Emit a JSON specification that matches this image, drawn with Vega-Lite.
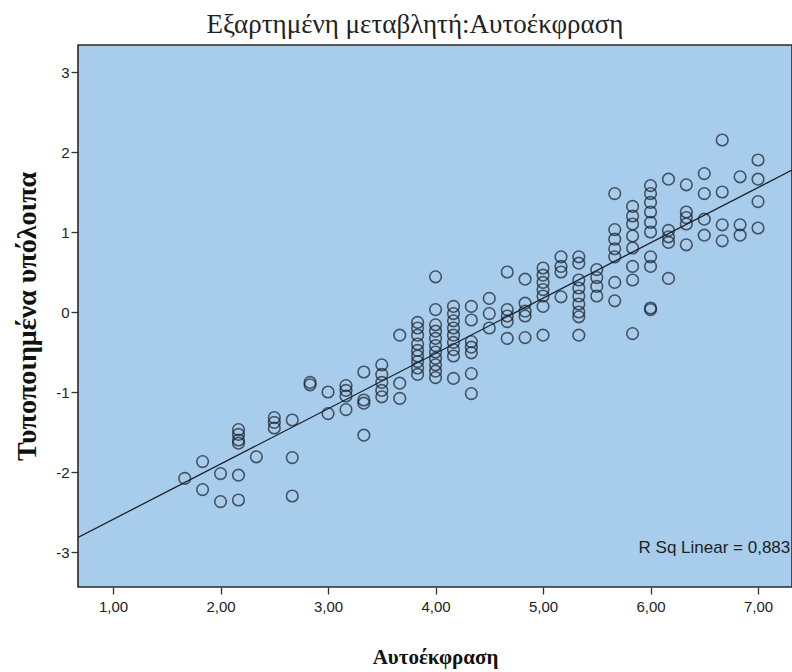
{
  "$schema": "https://vega.github.io/schema/vega-lite/v6.json",
  "width": 714,
  "height": 542,
  "autosize": "none",
  "padding": {"left": 78, "top": 45, "right": 0, "bottom": 85},
  "background": "white",
  "config": {
    "view": {"fill": "#a8ccec", "stroke": "#2b2b2b", "strokeWidth": 1.6},
    "axis": {
      "domain": false,
      "grid": false,
      "tickColor": "#333333",
      "tickWidth": 1.3,
      "tickSize": 7,
      "labelFont": "Liberation Sans",
      "labelFontSize": 15,
      "labelColor": "#222222",
      "titleFont": "Liberation Serif",
      "titleFontWeight": "bold",
      "titleColor": "#111111"
    }
  },
  "title": {
    "text": "Εξαρτημένη μεταβλητή:Αυτοέκφραση",
    "font": "Liberation Serif",
    "fontWeight": "normal",
    "fontSize": 27,
    "color": "#222222",
    "anchor": "middle",
    "dx": -20,
    "offset": 6
  },
  "datasets": {
    "points": [
      {"x": 1.667, "y": -2.08},
      {"x": 1.833, "y": -1.87}, {"x": 1.833, "y": -2.22},
      {"x": 2.0, "y": -2.02}, {"x": 2.0, "y": -2.37},
      {"x": 2.167, "y": -1.47}, {"x": 2.167, "y": -1.53}, {"x": 2.167, "y": -1.6}, {"x": 2.167, "y": -1.64}, {"x": 2.167, "y": -2.04}, {"x": 2.167, "y": -2.35},
      {"x": 2.333, "y": -1.81},
      {"x": 2.5, "y": -1.32}, {"x": 2.5, "y": -1.38}, {"x": 2.5, "y": -1.45},
      {"x": 2.667, "y": -1.35}, {"x": 2.667, "y": -1.82}, {"x": 2.667, "y": -2.3},
      {"x": 2.833, "y": -0.88}, {"x": 2.833, "y": -0.91},
      {"x": 3.0, "y": -1.0}, {"x": 3.0, "y": -1.27},
      {"x": 3.167, "y": -0.92}, {"x": 3.167, "y": -0.98}, {"x": 3.167, "y": -1.05}, {"x": 3.167, "y": -1.22},
      {"x": 3.333, "y": -0.75}, {"x": 3.333, "y": -1.1}, {"x": 3.333, "y": -1.14}, {"x": 3.333, "y": -1.54},
      {"x": 3.5, "y": -0.66}, {"x": 3.5, "y": -0.78}, {"x": 3.5, "y": -0.88}, {"x": 3.5, "y": -0.98}, {"x": 3.5, "y": -1.06},
      {"x": 3.667, "y": -0.29}, {"x": 3.667, "y": -0.89}, {"x": 3.667, "y": -1.08},
      {"x": 3.833, "y": -0.13}, {"x": 3.833, "y": -0.2}, {"x": 3.833, "y": -0.29}, {"x": 3.833, "y": -0.4}, {"x": 3.833, "y": -0.48}, {"x": 3.833, "y": -0.55}, {"x": 3.833, "y": -0.62}, {"x": 3.833, "y": -0.7}, {"x": 3.833, "y": -0.78},
      {"x": 4.0, "y": 0.44}, {"x": 4.0, "y": 0.03}, {"x": 4.0, "y": -0.16}, {"x": 4.0, "y": -0.24}, {"x": 4.0, "y": -0.33}, {"x": 4.0, "y": -0.42}, {"x": 4.0, "y": -0.5}, {"x": 4.0, "y": -0.58}, {"x": 4.0, "y": -0.66}, {"x": 4.0, "y": -0.74}, {"x": 4.0, "y": -0.82},
      {"x": 4.167, "y": 0.07}, {"x": 4.167, "y": -0.02}, {"x": 4.167, "y": -0.11}, {"x": 4.167, "y": -0.2}, {"x": 4.167, "y": -0.29}, {"x": 4.167, "y": -0.38}, {"x": 4.167, "y": -0.47}, {"x": 4.167, "y": -0.55}, {"x": 4.167, "y": -0.83},
      {"x": 4.333, "y": 0.07}, {"x": 4.333, "y": -0.1}, {"x": 4.333, "y": -0.37}, {"x": 4.333, "y": -0.44}, {"x": 4.333, "y": -0.51}, {"x": 4.333, "y": -0.77}, {"x": 4.333, "y": -1.02},
      {"x": 4.5, "y": 0.17}, {"x": 4.5, "y": -0.02}, {"x": 4.5, "y": -0.2},
      {"x": 4.667, "y": 0.5}, {"x": 4.667, "y": 0.03}, {"x": 4.667, "y": -0.05}, {"x": 4.667, "y": -0.12}, {"x": 4.667, "y": -0.33},
      {"x": 4.833, "y": 0.41}, {"x": 4.833, "y": 0.11}, {"x": 4.833, "y": 0.01}, {"x": 4.833, "y": -0.05}, {"x": 4.833, "y": -0.32},
      {"x": 5.0, "y": 0.55}, {"x": 5.0, "y": 0.46}, {"x": 5.0, "y": 0.37}, {"x": 5.0, "y": 0.28}, {"x": 5.0, "y": 0.2}, {"x": 5.0, "y": 0.07}, {"x": 5.0, "y": -0.29},
      {"x": 5.167, "y": 0.69}, {"x": 5.167, "y": 0.57}, {"x": 5.167, "y": 0.5}, {"x": 5.167, "y": 0.19},
      {"x": 5.333, "y": 0.69}, {"x": 5.333, "y": 0.61}, {"x": 5.333, "y": 0.4}, {"x": 5.333, "y": 0.3}, {"x": 5.333, "y": 0.2}, {"x": 5.333, "y": 0.1}, {"x": 5.333, "y": 0.0}, {"x": 5.333, "y": -0.06}, {"x": 5.333, "y": -0.29},
      {"x": 5.5, "y": 0.53}, {"x": 5.5, "y": 0.43}, {"x": 5.5, "y": 0.32}, {"x": 5.5, "y": 0.2},
      {"x": 5.667, "y": 1.48}, {"x": 5.667, "y": 1.03}, {"x": 5.667, "y": 0.91}, {"x": 5.667, "y": 0.79}, {"x": 5.667, "y": 0.69}, {"x": 5.667, "y": 0.37}, {"x": 5.667, "y": 0.14},
      {"x": 5.833, "y": 1.32}, {"x": 5.833, "y": 1.2}, {"x": 5.833, "y": 1.1}, {"x": 5.833, "y": 0.95}, {"x": 5.833, "y": 0.8}, {"x": 5.833, "y": 0.57}, {"x": 5.833, "y": 0.4}, {"x": 5.833, "y": -0.27},
      {"x": 6.0, "y": 1.58}, {"x": 6.0, "y": 1.48}, {"x": 6.0, "y": 1.37}, {"x": 6.0, "y": 1.25}, {"x": 6.0, "y": 1.12}, {"x": 6.0, "y": 1.0}, {"x": 6.0, "y": 0.69}, {"x": 6.0, "y": 0.57}, {"x": 6.0, "y": 0.05}, {"x": 6.0, "y": 0.03},
      {"x": 6.167, "y": 1.66}, {"x": 6.167, "y": 1.02}, {"x": 6.167, "y": 0.94}, {"x": 6.167, "y": 0.87}, {"x": 6.167, "y": 0.42},
      {"x": 6.333, "y": 1.59}, {"x": 6.333, "y": 1.25}, {"x": 6.333, "y": 1.18}, {"x": 6.333, "y": 1.1}, {"x": 6.333, "y": 0.84},
      {"x": 6.5, "y": 1.73}, {"x": 6.5, "y": 1.48}, {"x": 6.5, "y": 1.16}, {"x": 6.5, "y": 0.96},
      {"x": 6.667, "y": 2.15}, {"x": 6.667, "y": 1.5}, {"x": 6.667, "y": 1.09}, {"x": 6.667, "y": 0.89},
      {"x": 6.833, "y": 1.69}, {"x": 6.833, "y": 1.09}, {"x": 6.833, "y": 0.96},
      {"x": 7.0, "y": 1.9}, {"x": 7.0, "y": 1.66}, {"x": 7.0, "y": 1.38}, {"x": 7.0, "y": 1.05}
    ],
    "fit": [
      {"x": 0.674, "y": -2.818},
      {"x": 7.316, "y": 1.775}
    ],
    "note": [
      {"label": "R Sq Linear = 0,883"}
    ]
  },
  "layer": [
    {
      "data": {"name": "points"},
      "mark": {"type": "point", "shape": "circle", "filled": false, "size": 135, "stroke": "#1a2029", "strokeWidth": 1.6, "clip": true},
      "encoding": {
        "x": {
          "field": "x", "type": "quantitative",
          "scale": {"domain": [0.674, 7.316], "nice": false, "zero": false},
          "axis": {
            "values": [1, 2, 3, 4, 5, 6, 7],
            "labelExpr": "replace(format(datum.value, '.2f'), '.', ',')",
            "labelPadding": 5,
            "title": "Αυτοέκφραση",
            "titleFontSize": 21,
            "titlePadding": 32
          }
        },
        "y": {
          "field": "y", "type": "quantitative",
          "scale": {"domain": [-3.4375, 3.3375], "nice": false, "zero": false},
          "axis": {
            "values": [-3, -2, -1, 0, 1, 2, 3],
            "labelExpr": "'' + datum.value",
            "labelPadding": 2,
            "title": "Τυποποιημένα υπόλοιπα",
            "titleFontSize": 28,
            "titlePadding": 14
          }
        }
      }
    },
    {
      "data": {"name": "fit"},
      "mark": {"type": "line", "color": "#1a2029", "strokeWidth": 1.3, "clip": true},
      "encoding": {
        "x": {"field": "x", "type": "quantitative"},
        "y": {"field": "y", "type": "quantitative"}
      }
    },
    {
      "data": {"name": "note"},
      "mark": {"type": "text", "align": "right", "baseline": "middle", "font": "Liberation Sans", "fontSize": 17, "color": "#222222"},
      "encoding": {
        "x": {"datum": 7.3, "type": "quantitative"},
        "y": {"datum": -2.95, "type": "quantitative"},
        "text": {"field": "label"}
      }
    }
  ]
}
